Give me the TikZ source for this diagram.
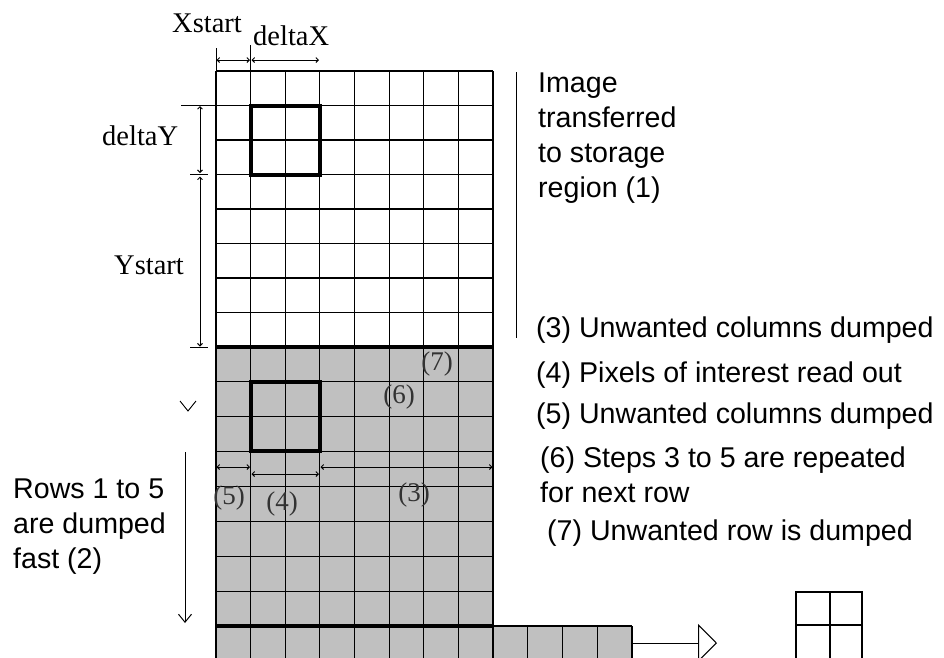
\documentclass[tikz,border=0pt]{standalone}
\usepackage{fontspec}
\setmainfont{Liberation Serif}
\newfontfamily\arialf{Liberation Sans}
\usetikzlibrary{arrows.meta}
\definecolor{greyfill}{HTML}{C0C0C0}
\begin{document}
\begin{tikzpicture}[x=1pt,y=-1pt,
  gridline/.style={line width=1.1pt},
  heavyline/.style={line width=4pt},
  dimarrow/.style={line width=0.9pt,{Straight Barb[length=2.5pt,width=5pt]}-{Straight Barb[length=2.5pt,width=5pt]}},
  ticklne/.style={line width=1pt},
  serlbl/.style={font=\fontsize{28.5}{30}\selectfont, inner sep=0pt, anchor=base west},
  parlbl/.style={font=\fontsize{27}{28}\selectfont, inner sep=0pt, text=black!80},
  note/.style={font=\arialf\fontsize{28.6}{35}\selectfont, inner sep=0pt, anchor=base west, align=left},
  ]
\useasboundingbox (0,0) rectangle (944,657);
\clip (0,0) rectangle (944,657);
% grey regions
\fill[greyfill] (216,347) rectangle (493,700);
\fill[greyfill] (493,626) rectangle (632,700);
% vertical grid lines
\foreach \i in {0,...,8} \draw[gridline] ({216+\i*34.625},71) -- ({216+\i*34.625},700);
\foreach \i in {1,...,4} \draw[gridline] ({493+\i*34.75},626) -- ({493+\i*34.75},700);
% horizontal grid lines
\foreach \k in {0,...,7} \draw[gridline] (216,{71+\k*34.5}) -- (493,{71+\k*34.5});
\foreach \k in {1,...,7} \draw[gridline] (216,{347+\k*34.875}) -- (493,{347+\k*34.875});
\draw[gridline] (493,626) -- (632,626);
\draw[heavyline] (216,347) -- (493,347);
\draw[heavyline] (216,626) -- (493,626);
% region of interest boxes
\draw[heavyline] (250.6,105.5) rectangle (319.9,174.5);
\draw[heavyline] (250.6,382) rectangle (319.9,451);
% output arrow and small grid
\coordinate (outA) at (632,643);
\coordinate (outB) at (717,643);
\draw[line width=1pt,-{Triangle[open,length=19pt,width=38pt,line width=1pt]}] (outA) -- (outB);
\draw[gridline] (796,700) -- (796,592) -- (862,592) -- (862,700);
\draw[gridline] (830,592) -- (830,700);
\draw[gridline] (796,625) -- (862,625);
% X dimensions
\coordinate (xa0) at (216,48); \coordinate (xa1) at (216,71);
\coordinate (xb0) at (250.6,45); \coordinate (xb1) at (250.6,71);
\draw[ticklne] (xa0) -- (xa1);
\draw[ticklne] (xb0) -- (xb1);
\coordinate (xs1) at (216.5,60); \coordinate (xs2) at (250,60);
\coordinate (dx1) at (251.5,60); \coordinate (dx2) at (319,60);
\draw[dimarrow] (xs1) -- (xs2);
\draw[dimarrow] (dx1) -- (dx2);
\node[serlbl] (xstart) at (172,32) {Xstart};
\node[serlbl] (deltax) at (253,45) {deltaX};
% Y dimensions
\coordinate (ty0) at (181,105.5); \coordinate (ty1) at (216,105.5);
\draw[ticklne] (ty0) -- (ty1);
\draw[ticklne] (190,174.5) -- (208,174.5);
\draw[ticklne] (190,347) -- (208,347);
\coordinate (dy1) at (200,106); \coordinate (dy2) at (200,173);
\coordinate (ys1) at (200,176.5); \coordinate (ys2) at (200,346.5);
\draw[dimarrow] (dy1) -- (dy2);
\draw[dimarrow] (ys1) -- (ys2);
\node[serlbl] (deltay) at (102,145) {deltaY};
\node[serlbl] (ystart) at (114,274) {Ystart};
% lower dimension arrows
\coordinate (c5a) at (216.5,467); \coordinate (c5b) at (250,467);
\coordinate (c4a) at (251.5,474); \coordinate (c4b) at (319,474);
\coordinate (c3a) at (320.5,467); \coordinate (c3b) at (492.5,467);
\draw[dimarrow] (c5a) -- (c5b);
\draw[dimarrow] (c4a) -- (c4b);
\draw[dimarrow] (c3a) -- (c3b);
\node[parlbl] (p5) at (229,498) {(5)};
\node[parlbl] (p4) at (282,504) {(4)};
\node[parlbl] (p3) at (414,495) {(3)};
\node[parlbl] (p6) at (399,397) {(6)};
\node[parlbl] (p7) at (437,364) {(7)};
% rows dumped arrow
\coordinate (ra) at (185,452); \coordinate (rb) at (185,623);
\draw[line width=1pt,-{Straight Barb[length=8pt,width=13pt]}] (ra) -- (rb);
\draw[line width=0.9pt] (180,401) -- (188,411) -- (196,401);
\node[note] (rows) at (13,568) {Rows 1 to 5\\are dumped\\fast (2)};
% right side
\coordinate (va) at (516,72); \coordinate (vb) at (516,338);
\draw[line width=1pt] (va) -- (vb);
\node[note] (img) at (538,197) {Image\\transferred\\to storage\\region (1)};
\node[note] (n3) at (536,337) {(3) Unwanted columns dumped};
\node[note] (n4) at (536,382) {(4) Pixels of interest read out};
\node[note] (n5) at (536,423) {(5) Unwanted columns dumped};
\node[note] (n6) at (540,502) {(6) Steps 3 to 5 are repeated\\for next row};
\node[note] (n7) at (547,540) {(7) Unwanted row is dumped};
\end{tikzpicture}
\end{document}
